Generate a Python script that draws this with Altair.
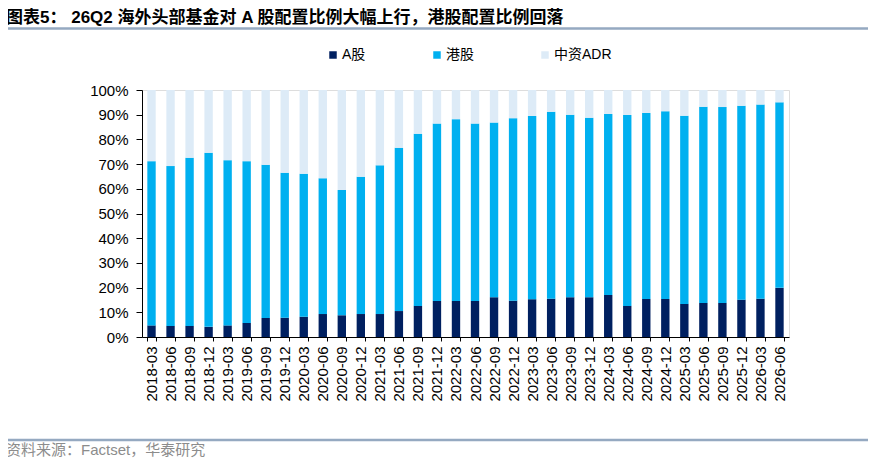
import altair as alt
import pandas as pd

categories = ["2018-03","2018-06","2018-09","2018-12","2019-03","2019-06","2019-09","2019-12",
              "2020-03","2020-06","2020-09","2020-12","2021-03","2021-06","2021-09","2021-12",
              "2022-03","2022-06","2022-09","2022-12","2023-03","2023-06","2023-09","2023-12",
              "2024-03","2024-06","2024-09","2024-12","2025-03","2025-06","2025-09","2025-12",
              "2026-03","2026-06"]
a_share = [4.7,4.5,4.5,4.1,4.7,5.7,7.7,7.8,8.2,9.3,8.8,9.3,9.3,10.5,12.6,14.6,
           14.6,14.6,16.1,14.7,15.3,15.5,16.1,16.1,17.0,12.6,15.4,15.4,13.4,13.8,13.8,15.1,
           15.5,19.9]
hk_share = [66.5,64.7,68.1,70.5,66.9,65.5,62.0,58.7,57.9,55.0,50.7,55.6,60.2,66.1,69.7,71.8,
            73.6,71.8,70.7,73.9,74.2,75.7,73.9,72.7,73.3,77.3,75.3,76.0,76.2,79.4,79.3,78.5,
            78.6,75.1]
adr_share = [28.8,30.8,27.4,25.4,28.4,28.8,30.3,33.5,33.9,35.7,40.5,35.1,30.5,23.4,17.7,13.6,
             11.8,13.6,13.2,11.4,10.5,8.8,10.0,11.2,9.7,10.1,9.3,8.6,10.4,6.8,6.9,6.4,
             5.9,5.0]
series_names = ["A股", "港股", "中资ADR"]
series_colors = ["#002060", "#00B0F0", "#DDEBF7"]
y_ticks = [0, 10, 20, 30, 40, 50, 60, 70, 80, 90, 100]

title_text = "图表5： 26Q2 海外头部基金对 A 股配置比例大幅上行，港股配置比例回落"
source_text = "资料来源：Factset，华泰研究"

rows = []
for i, c in enumerate(categories):
    for k, (name, vals) in enumerate(zip(series_names, [a_share, hk_share, adr_share])):
        rows.append({"date": c, "series": name, "value": vals[i], "idx": k})
df = pd.DataFrame(rows)

FONT = "Liberation Sans, Noto Sans CJK SC, sans-serif"

bars = alt.Chart(df).mark_bar().encode(
    x=alt.X("date:N", sort=categories,
            scale=alt.Scale(paddingInner=0.56, paddingOuter=0.28),
            axis=alt.Axis(title=None, labelAngle=270, labelFontSize=15, labelColor="#000000",
                          labelFont=FONT, tickBand="extent", tickSize=4, tickColor="#000000",
                          domainColor="#000000", labelPadding=5, labelOverlap=False)),
    y=alt.Y("value:Q", stack="zero",
            scale=alt.Scale(domain=[0, 100], nice=False),
            axis=alt.Axis(title=None, values=y_ticks, labelExpr="datum.value + '%'",
                          grid=False, labelFontSize=15, labelColor="#000000", labelFont=FONT,
                          tickSize=6, tickColor="#000000", domainColor="#000000",
                          labelPadding=8)),
    color=alt.Color("series:N", scale=alt.Scale(domain=series_names, range=series_colors),
                    legend=alt.Legend(title=None, orient="none", legendX=184, legendY=-42,
                                      direction="horizontal", symbolType="square",
                                      symbolSize=56, symbolStrokeWidth=0, labelFontSize=14,
                                      labelFont=FONT, labelColor="#000000",
                                      columnPadding=64, labelOffset=2, padding=0)),
    order=alt.Order("idx:Q", sort="ascending"),
)

one = alt.Data(values=[{"k": 1}])

title = alt.Chart(one).mark_text(align="left", baseline="middle", fontSize=17,
                                 fontWeight="bold", font=FONT,
                                 color="#000000").encode(
    x=alt.value(-136), y=alt.value(-72), text=alt.value(title_text))

title_rule = alt.Chart(one).mark_rule(color="#95A9C1", strokeWidth=2.5).encode(
    x=alt.value(-137), x2=alt.value(726), y=alt.value(-61.5))

foot_rule = alt.Chart(one).mark_rule(color="#95A9C1", strokeWidth=2.5).encode(
    x=alt.value(-137), x2=alt.value(726), y=alt.value(350))

footer = alt.Chart(one).mark_text(align="left", baseline="middle", fontSize=15,
                                  font=FONT, color="#8C8C8C").encode(
    x=alt.value(-136), y=alt.value(360), text=alt.value(source_text))

chart = alt.layer(bars, title_rule, foot_rule, title, footer).properties(
    width=647, height=247,
    autosize=alt.AutoSizeParams(type="none"),
    padding={"left": 134, "top": 82, "right": 79, "bottom": 124},
).configure_view(stroke=None).configure(background="#FFFFFF")

chart.save("out.html", embed_options={"renderer": "svg", "actions": False})
